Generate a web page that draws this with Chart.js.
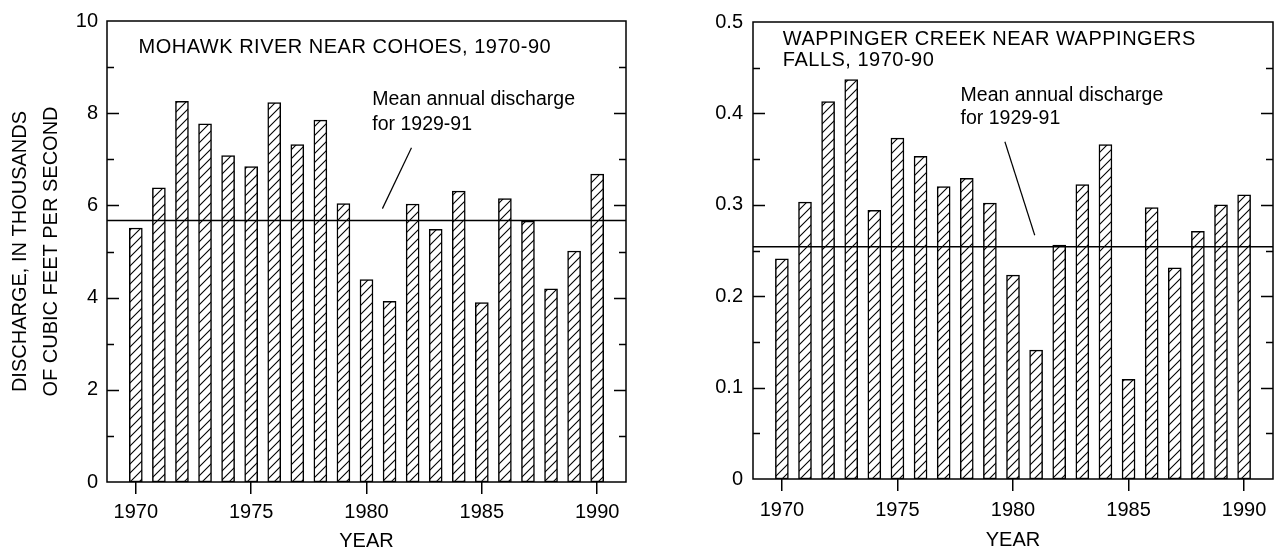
<!DOCTYPE html>
<html>
<head>
<meta charset="utf-8">
<script src="https://cdn.jsdelivr.net/npm/chart.js@4/dist/chart.umd.min.js"></script>
<style>
  html, body { margin: 0; padding: 0; background: #fff; }
  body { width: 1277px; height: 555px; position: relative; overflow: hidden; }
  canvas { position: absolute; top: 0; }
  #c1 { left: 0; }
  #c2 { left: 640px; }
</style>
</head>
<body>
<canvas id="c1" width="640" height="555"></canvas>
<canvas id="c2" width="637" height="555"></canvas>
<script>
// ---------- data ----------
const years = [1970,1971,1972,1973,1974,1975,1976,1977,1978,1979,1980,1981,1982,1983,1984,1985,1986,1987,1988,1989,1990];
const yearTicks = [1970,1975,1980,1985,1990];

const mohawkValues = [5.51,6.38,8.26,7.77,7.08,6.84,8.23,7.32,7.85,6.04,4.39,3.92,6.03,5.48,6.31,3.89,6.15,5.66,4.19,5.01,6.68];
const mohawkMean = 5.67;
const mohawkMajorTicks = [0,2,4,6,8,10];
const mohawkMinorTicks = [1,3,5,7,9];

const wappingerValues = [0.241,0.303,0.413,0.437,0.294,0.373,0.353,0.320,0.329,0.302,0.223,0.141,0.256,0.322,0.366,0.109,0.297,0.231,0.271,0.300,0.311];
const wappingerMean = 0.254;
const wappingerMajorTicks = [0,0.1,0.2,0.3,0.4,0.5];
const wappingerMinorTicks = [0.05,0.15,0.25,0.35,0.45];

const meanLabel = ['Mean annual discharge', 'for 1929-91'];
const mohawkTitle = ['MOHAWK RIVER NEAR COHOES, 1970-90'];
const wappingerTitle = ['WAPPINGER CREEK NEAR WAPPINGERS', 'FALLS, 1970-90'];
const yTitle = ['DISCHARGE, IN THOUSANDS', 'OF CUBIC FEET PER SECOND'];

// ---------- helpers ----------
const FONT = '"Liberation Sans", Arial, Helvetica, sans-serif';
const X_MIN = 1968.75, X_MAX = 1991.25;

function hatchPattern(ctx) {
  const c = document.createElement('canvas');
  c.width = 9; c.height = 9;
  const g = c.getContext('2d');
  g.fillStyle = '#fff'; g.fillRect(0, 0, 9, 9);
  g.strokeStyle = '#000'; g.lineWidth = 1.1;
  g.beginPath();
  g.moveTo(-1, 10); g.lineTo(10, -1);
  g.moveTo(-1, 1); g.lineTo(1, -1);
  g.moveTo(8, 10); g.lineTo(10, 8);
  g.stroke();
  return ctx.createPattern(c, 'repeat');
}

const framePlugin = {
  id: 'frame',
  afterDatasetsDraw(chart, args, opts) {
    const { ctx, chartArea: a, scales } = chart;
    const x = scales.x, y = scales.y;
    ctx.save();
    ctx.strokeStyle = '#000';
    ctx.lineWidth = 1.5;
    ctx.strokeRect(a.left, a.top, a.right - a.left, a.bottom - a.top);
    ctx.beginPath();
    const drawTick = (v, len) => {
      const py = Math.round(y.getPixelForValue(v)) + 0.5;
      ctx.moveTo(a.left, py); ctx.lineTo(a.left + len, py);
      ctx.moveTo(a.right, py); ctx.lineTo(a.right - len, py);
    };
    opts.major.forEach(v => { if (v !== y.min && v !== y.max) drawTick(v, 12); });
    opts.minor.forEach(v => drawTick(v, 7));
    ctx.stroke();
    // texts
    ctx.fillStyle = '#000';
    ctx.textBaseline = 'middle';
    ctx.textAlign = 'left';
    opts.texts.forEach(t => {
      ctx.font = (t.size || 19.5) + 'px ' + FONT;
      ctx.letterSpacing = t.spacing || '0px';
      ctx.fillText(t.text, x.getPixelForValue(t.x), y.getPixelForValue(t.y));
    });
    ctx.restore();
  }
};

function makeChart(id, cfg) {
  const canvas = document.getElementById(id);
  const ctx = canvas.getContext('2d');
  const pattern = hatchPattern(ctx);
  return new Chart(ctx, {
    type: 'bar',
    data: {
      datasets: [
        {
          type: 'bar',
          data: years.map((yr, i) => ({ x: yr, y: cfg.values[i] })),
          backgroundColor: pattern,
          borderColor: '#000',
          borderWidth: 1.5,
          borderSkipped: false,
          barThickness: 13,
          order: 2
        },
        {
          type: 'line',
          data: [{ x: X_MIN, y: cfg.mean }, { x: X_MAX, y: cfg.mean }],
          borderColor: '#000',
          borderWidth: 1.5,
          pointRadius: 0,
          fill: false,
          order: 1
        },
        {
          type: 'line',
          data: cfg.leader,
          borderColor: '#000',
          borderWidth: 1.2,
          pointRadius: 0,
          fill: false,
          order: 1
        }
      ]
    },
    options: {
      responsive: false,
      devicePixelRatio: 1,
      animation: false,
      events: [],
      layout: { padding: cfg.padding },
      plugins: {
        legend: { display: false },
        tooltip: { enabled: false },
        frame: { major: cfg.major, minor: cfg.minor, texts: cfg.texts }
      },
      scales: {
        x: {
          type: 'linear',
          offset: false,
          min: X_MIN,
          max: X_MAX,
          afterBuildTicks: s => { s.ticks = yearTicks.map(v => ({ value: v })); },
          afterFit: s => { s.height = cfg.xHeight; },
          grid: { display: true, offset: false, drawOnChartArea: false, drawTicks: true, tickLength: 12, color: '#000', lineWidth: 1.5 },
          border: { display: false },
          ticks: { color: '#000', font: { family: FONT, size: 20 }, padding: cfg.xTickPad, maxRotation: 0, callback: v => String(v) },
          title: { display: true, text: 'YEAR', color: '#000', font: { family: FONT, size: 20, lineHeight: 1.2 }, padding: { top: 0, bottom: cfg.xTitlePad } }
        },
        y: {
          type: 'linear',
          min: cfg.major[0],
          max: cfg.major[cfg.major.length - 1],
          afterBuildTicks: s => { s.ticks = cfg.major.map(v => ({ value: v })); },
          afterFit: s => { s.width = cfg.yWidth; },
          grid: { display: false, drawTicks: false, tickLength: 0 },
          border: { display: false },
          ticks: { color: '#000', font: { family: FONT, size: 20 }, padding: cfg.yTickPad, callback: cfg.fmt },
          title: cfg.yTitle ? { display: true, text: cfg.yTitle, color: '#000', font: { family: FONT, size: 20, lineHeight: 1.55 }, padding: { top: 5, bottom: 0 } } : { display: false }
        }
      }
    },
    plugins: [framePlugin]
  });
}

makeChart('c1', {
  values: mohawkValues,
  mean: mohawkMean,
  leader: [{ x: 1981.95, y: 7.25 }, { x: 1980.69, y: 5.93 }],
  major: mohawkMajorTicks,
  minor: mohawkMinorTicks,
  fmt: v => String(v),
  padding: { left: 0, top: 21, right: 14, bottom: 0 },
  yWidth: 107,
  xHeight: 73,
  xTickPad: 6,
  xTitlePad: 2,
  yTickPad: 9,
  yTitle: yTitle,
  texts: [
    { text: mohawkTitle[0], x: 1970.12, y: 9.42, spacing: '0.5px', size: 20 },
    { text: meanLabel[0], x: 1980.25, y: 8.29 },
    { text: meanLabel[1], x: 1980.25, y: 7.75 }
  ]
});

makeChart('c2', {
  values: wappingerValues,
  mean: wappingerMean,
  leader: [{ x: 1979.65, y: 0.369 }, { x: 1980.94, y: 0.2667 }],
  major: wappingerMajorTicks,
  minor: wappingerMinorTicks,
  fmt: v => (v === 0 ? '0' : v.toFixed(1)),
  padding: { left: 0, top: 18, right: 4, bottom: 0 },
  yWidth: 113,
  xHeight: 76,
  xTickPad: 7,
  xTitlePad: 3,
  yTickPad: 10,
  yTitle: null,
  texts: [
    { text: wappingerTitle[0], x: 1970.04, y: 0.481, spacing: '0.5px', size: 20 },
    { text: wappingerTitle[1], x: 1970.04, y: 0.458, spacing: '0.5px', size: 20 },
    { text: meanLabel[0], x: 1977.73, y: 0.4195 },
    { text: meanLabel[1], x: 1977.73, y: 0.394 }
  ]
});
</script>
</body>
</html>
